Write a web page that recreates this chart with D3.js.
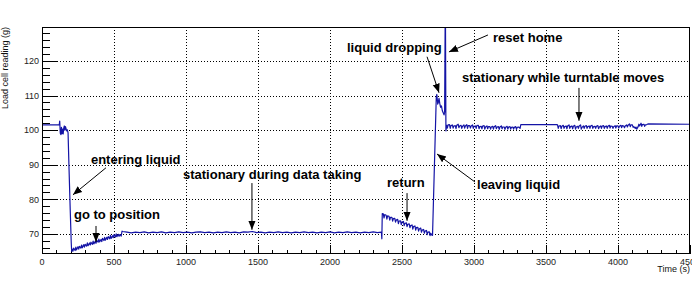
<!DOCTYPE html>
<html>
<head>
<meta charset="utf-8">
<script src="https://cdn.jsdelivr.net/npm/d3@7"></script>
<style>
  html, body { margin: 0; padding: 0; background: #fff; }
  svg { display: block; font-family: "Liberation Sans", Arial, sans-serif; }
  .tick-label { font-size: 9px; fill: #222; }
  .axis-title { font-size: 9px; fill: #111; }
  .note { font-size: 13px; font-weight: bold; fill: #000; }
</style>
</head>
<body>
<svg id="chart"></svg>
<script>
const width = 692;
const height = 283;

// ----- DATA (time in s, load cell reading in g) -----
const atRest = [[0, 101.5], [120, 101.5], [123, 102.6], [127, 99.1], [131, 98.7], [135, 100.8],
  [139, 99.0], [143, 100.3], [147, 98.9], [151, 100.6], [155, 101.2], [159, 100.0], [163, 101.0],
  [167, 100.4], [171, 99.8], [176, 100.1], [181, 99.2]];

const entering = [[188, 88.5], [196, 77.0], [203, 67.5], [206, 65.0]];

const goToPosition = [[210, 65.6], [215, 65.0], [220, 65.9], [230, 65.2], [235, 66.2], [240, 65.4],
  [250, 66.3], [255, 65.6], [260, 66.4], [270, 65.9], [275, 66.8], [280, 66.0], [290, 66.9],
  [295, 66.2], [300, 67.0], [310, 66.5], [315, 67.4], [320, 66.6], [330, 67.4], [335, 66.8],
  [340, 67.6], [350, 67.0], [355, 67.9], [360, 67.1], [370, 67.9], [375, 67.3], [380, 68.1],
  [390, 67.6], [395, 68.5], [400, 67.7], [410, 68.4], [415, 67.8], [420, 68.7], [430, 68.1],
  [435, 69.0], [440, 68.2], [450, 69.0], [455, 68.4], [460, 69.2], [470, 68.6], [475, 69.6],
  [480, 68.7], [490, 69.5], [495, 68.9], [500, 69.8], [510, 69.1], [515, 70.0], [520, 69.2],
  [530, 69.9], [535, 69.3], [540, 69.8], [550, 69.4], [556, 70.8]];

const dataTaking = [[560, 70.7], [590, 70.5], [620, 70.3], [650, 70.5], [680, 70.4], [710, 70.6],
  [740, 70.3], [770, 70.5], [800, 70.4], [830, 70.6], [860, 70.3], [890, 70.5], [920, 70.4],
  [950, 70.6], [980, 70.4], [1010, 70.5], [1040, 70.3], [1070, 70.5], [1100, 70.6], [1130, 70.4],
  [1160, 70.5], [1190, 70.3], [1220, 70.5], [1250, 70.4], [1280, 70.6], [1310, 70.4], [1340, 70.5],
  [1370, 70.3], [1400, 70.6], [1430, 70.5], [1460, 70.7], [1490, 70.4], [1520, 70.5], [1550, 70.3],
  [1580, 70.5], [1610, 70.4], [1640, 70.6], [1670, 70.4], [1700, 70.5], [1730, 70.3], [1760, 70.5],
  [1790, 70.4], [1820, 70.6], [1850, 70.4], [1880, 70.5], [1910, 70.3], [1940, 70.5], [1970, 70.4],
  [2000, 70.6], [2030, 70.3], [2060, 70.5], [2090, 70.4], [2120, 70.6], [2150, 70.4], [2180, 70.5],
  [2210, 70.3], [2240, 70.5], [2270, 70.4], [2300, 70.6], [2330, 70.4], [2357, 70.5]];

const returning = [[2360, 68.6], [2363, 75.9], [2370, 75.8], [2375, 74.6], [2380, 75.6], [2390, 75.4],
  [2395, 74.3], [2400, 75.2], [2410, 75.1], [2415, 74.0], [2420, 74.8], [2430, 74.8], [2435, 73.7],
  [2440, 74.4], [2450, 74.5], [2455, 73.4], [2460, 74.0], [2470, 74.2], [2475, 73.0], [2480, 73.7],
  [2490, 73.8], [2495, 72.7], [2500, 73.4], [2510, 73.6], [2515, 72.4], [2520, 73.0], [2530, 73.2],
  [2535, 72.1], [2540, 72.8], [2550, 72.9], [2555, 71.8], [2560, 72.4], [2570, 72.6], [2575, 71.4],
  [2580, 72.1], [2590, 72.3], [2595, 71.1], [2600, 71.8], [2610, 71.9], [2615, 70.8], [2620, 71.4],
  [2630, 71.7], [2635, 70.5], [2640, 71.1], [2650, 71.3], [2655, 70.2], [2660, 70.8], [2670, 71.0],
  [2675, 69.8], [2680, 70.5], [2690, 70.6], [2695, 69.5], [2700, 70.2], [2708, 69.6]];

const leaving = [[2712, 69.6], [2738, 109.5], [2742, 110.3], [2748, 107.5], [2752, 108.0],
  [2757, 109.2], [2762, 107.8], [2768, 106.6], [2774, 107.0], [2780, 105.6], [2786, 105.0],
  [2792, 104.4], [2796, 105.2], [2801, 140.0], [2805, 99.8]];

const afterReset = [[2810, 101.4], [2815, 100.6], [2820, 101.5], [2830, 101.6], [2835, 100.5],
  [2840, 101.3], [2850, 101.5], [2855, 100.6], [2860, 101.2], [2870, 101.3], [2875, 100.4],
  [2880, 101.4], [2890, 101.7], [2895, 100.7], [2900, 101.2], [2910, 101.4], [2915, 100.5],
  [2920, 101.1], [2930, 101.5], [2935, 100.6], [2940, 101.2], [2950, 101.6], [2955, 100.5],
  [2960, 101.3], [2970, 101.3], [2975, 100.6], [2980, 101.2], [2990, 101.5], [2995, 100.5],
  [3000, 101.1], [3010, 101.2], [3015, 100.5], [3020, 101.3], [3030, 101.4], [3035, 100.4],
  [3040, 101.0], [3050, 101.1], [3055, 100.4], [3060, 101.2], [3070, 101.3], [3075, 100.3],
  [3080, 100.9], [3090, 101.2], [3095, 100.4], [3100, 101.0], [3110, 101.0], [3115, 100.3],
  [3120, 100.9], [3130, 101.1], [3135, 100.3], [3140, 101.0], [3150, 101.3], [3155, 100.4],
  [3160, 100.9], [3170, 101.0], [3175, 100.2], [3180, 100.9], [3190, 101.2], [3195, 100.4],
  [3200, 100.9], [3210, 100.9], [3215, 100.2], [3220, 100.8], [3230, 101.1], [3235, 100.3],
  [3240, 100.9], [3250, 101.0], [3255, 100.3], [3260, 100.8], [3270, 100.9], [3275, 100.3],
  [3280, 100.8], [3290, 101.0], [3295, 100.2], [3300, 100.8], [3310, 100.9], [3320, 100.5],
  [3325, 101.6], [3574, 101.6]];

const turntable = [[3580, 101.5], [3585, 100.5], [3590, 101.2], [3600, 101.3], [3605, 100.4],
  [3610, 101.1], [3620, 101.4], [3625, 100.5], [3630, 101.0], [3640, 101.2], [3645, 100.4],
  [3650, 101.2], [3660, 101.5], [3665, 100.5], [3670, 101.0], [3680, 101.2], [3685, 100.4],
  [3690, 101.1], [3700, 101.4], [3705, 100.3], [3710, 100.9], [3720, 101.1], [3725, 100.5],
  [3730, 101.2], [3740, 101.5], [3745, 100.3], [3750, 100.8], [3760, 101.2], [3765, 100.5],
  [3770, 101.1], [3780, 101.3], [3785, 100.5], [3790, 101.0], [3800, 101.2], [3805, 100.5],
  [3810, 101.2], [3820, 101.4], [3825, 100.5], [3830, 101.0], [3840, 101.1], [3845, 100.5],
  [3850, 101.1], [3860, 101.3], [3865, 100.4], [3870, 100.9], [3880, 101.2], [3885, 100.5],
  [3890, 101.2], [3900, 101.3], [3905, 100.5], [3910, 101.0], [3920, 101.2], [3925, 100.5],
  [3930, 101.1], [3940, 101.4], [3945, 100.6], [3950, 101.2], [3960, 101.1], [3965, 100.5],
  [3970, 101.0], [3980, 101.3], [3985, 100.6], [3990, 101.2], [4000, 101.2], [4005, 100.6],
  [4010, 101.1], [4020, 101.4], [4025, 100.7], [4030, 101.3], [4040, 101.2], [4045, 100.7],
  [4050, 101.2], [4060, 101.5], [4065, 100.9], [4070, 101.4], [4080, 101.8], [4085, 101.0],
  [4090, 101.5], [4100, 101.5], [4105, 100.8], [4110, 101.0], [4120, 100.5], [4125, 100.9],
  [4130, 100.3], [4140, 101.0], [4145, 101.7], [4150, 101.2], [4160, 102.0], [4165, 101.1],
  [4170, 101.6], [4180, 101.7], [4185, 101.1], [4190, 101.5], [4200, 101.6], [4208, 101.8],
  [4500, 101.7]];

const xTicks = [0, 500, 1000, 1500, 2000, 2500, 3000, 3500, 4000, 4500];
const yTicks = [70, 80, 90, 100, 110, 120];

// label: text, text anchor [t, g], arrow from [t, g] to [t, g]
const notes = [
  { text: "entering liquid", at: [340, 90.2], from: [444, 89.1], to: [215, 81.3] },
  { text: "go to position", at: [222, 74.3], from: [375, 72.3], to: [375, 67.7] },
  { text: "stationary during data taking", at: [979, 86.0], from: [1458, 84.7], to: [1458, 71.2] },
  { text: "return", at: [2396, 83.6], from: [2535, 81.8], to: [2535, 73.8] },
  { text: "liquid dropping", at: [2118, 122.5], from: [2674, 121.2], to: [2757, 110.8] },
  { text: "reset home", at: [3132, 125.6], from: [3097, 127.5], to: [2826, 122.6] },
  { text: "stationary while turntable moves", at: [2917, 113.9], from: [3729, 112.2], to: [3729, 102.7] },
  { text: "leaving liquid", at: [3021, 82.9], from: [3007, 85.0], to: [2743, 93.1] }
];

const readings = [].concat(atRest, entering, goToPosition, dataTaking, returning, leaving, afterReset, turntable);

// ----- LAYOUT -----
const margin = { top: 27, right: 2, bottom: 29, left: 42 };
const plotW = width - margin.left - margin.right;
const plotH = height - margin.top - margin.bottom;

const svg = d3.select("#chart")
  .attr("width", width)
  .attr("height", height)
  .attr("viewBox", [0, 0, width, height]);

const x = d3.scaleLinear().domain([0, 4500]).range([margin.left, margin.left + plotW]);
const y = d3.scaleLinear().domain([64.2, 129.8]).range([margin.top + plotH, margin.top]);

svg.append("defs").append("clipPath").attr("id", "plot-clip")
  .append("rect")
  .attr("x", margin.left).attr("y", margin.top)
  .attr("width", plotW).attr("height", plotH);

// grid
const grid = svg.append("g").attr("stroke", "#000").attr("stroke-width", 1)
  .attr("stroke-dasharray", "1,2").attr("shape-rendering", "crispEdges");
grid.selectAll(".gx").data(xTicks.slice(1, -1)).join("line")
  .attr("x1", d => Math.round(x(d)) + 0.5).attr("x2", d => Math.round(x(d)) + 0.5)
  .attr("y1", margin.top).attr("y2", margin.top + plotH);
grid.selectAll(".gy").data(yTicks).join("line")
  .attr("y1", d => Math.round(y(d)) + 0.5).attr("y2", d => Math.round(y(d)) + 0.5)
  .attr("x1", margin.left).attr("x2", margin.left + plotW);

// axes: ticks drawn inward like ROOT
const xAxis = svg.append("g")
  .attr("transform", `translate(0,${margin.top + plotH})`)
  .call(d3.axisBottom(x).tickValues(d3.range(0, 4501, 100)).tickSize(-4.5).tickFormat(""));
xAxis.selectAll(".tick line").filter(d => d % 500 === 0).attr("y2", -9);
xAxis.select(".domain").remove();

const yAxis = svg.append("g")
  .attr("transform", `translate(${margin.left},0)`)
  .call(d3.axisLeft(y).tickValues(d3.range(66, 130, 2)).tickSize(-8).tickFormat(""));
yAxis.selectAll(".tick line").filter(d => d % 10 === 0).attr("x2", 16);
yAxis.select(".domain").remove();
svg.selectAll(".tick line").attr("stroke", "#000").attr("shape-rendering", "crispEdges");

svg.append("g").selectAll("text").data(xTicks).join("text")
  .attr("class", "tick-label")
  .attr("x", d => x(d)).attr("y", margin.top + plotH + 11)
  .attr("text-anchor", "middle")
  .text(d => d);

svg.append("g").selectAll("text").data(yTicks).join("text")
  .attr("class", "tick-label")
  .attr("x", margin.left - 3).attr("y", d => y(d) + 3.3)
  .attr("text-anchor", "end")
  .text(d => d);

svg.append("text").attr("class", "axis-title")
  .attr("x", margin.left + plotW).attr("y", 272)
  .attr("text-anchor", "end")
  .text("Time (s)");

svg.append("text").attr("class", "axis-title")
  .attr("transform", `translate(8,${margin.top}) rotate(-90)`)
  .attr("text-anchor", "end")
  .text("Load cell reading (g)");

// data line
const line = d3.line().x(d => x(d[0])).y(d => y(d[1]));
svg.append("path")
  .datum(readings)
  .attr("clip-path", "url(#plot-clip)")
  .attr("fill", "none")
  .attr("stroke", "#1414a6")
  .attr("stroke-width", 1.2)
  .attr("stroke-linejoin", "round")
  .attr("d", line);

// frame
svg.append("rect")
  .attr("x", margin.left + 0.5).attr("y", margin.top + 0.5)
  .attr("width", plotW - 1).attr("height", plotH - 1)
  .attr("fill", "none").attr("stroke", "#000").attr("stroke-width", 1);

// annotations
svg.append("defs").append("marker")
  .attr("id", "head").attr("viewBox", "0 0 10 10")
  .attr("refX", 10).attr("refY", 5)
  .attr("markerWidth", 9).attr("markerHeight", 9)
  .attr("markerUnits", "userSpaceOnUse")
  .attr("orient", "auto")
  .append("path").attr("d", "M0,1 L10,5 L0,9 Z").attr("fill", "#000");

const noteG = svg.append("g");
noteG.selectAll("line").data(notes).join("line")
  .attr("x1", d => x(d.from[0])).attr("y1", d => y(d.from[1]))
  .attr("x2", d => x(d.to[0])).attr("y2", d => y(d.to[1]))
  .attr("stroke", "#000").attr("stroke-width", 1)
  .attr("marker-end", "url(#head)");
noteG.selectAll("text").data(notes).join("text")
  .attr("class", "note")
  .attr("x", d => x(d.at[0])).attr("y", d => y(d.at[1]))
  .text(d => d.text);
</script>
</body>
</html>
